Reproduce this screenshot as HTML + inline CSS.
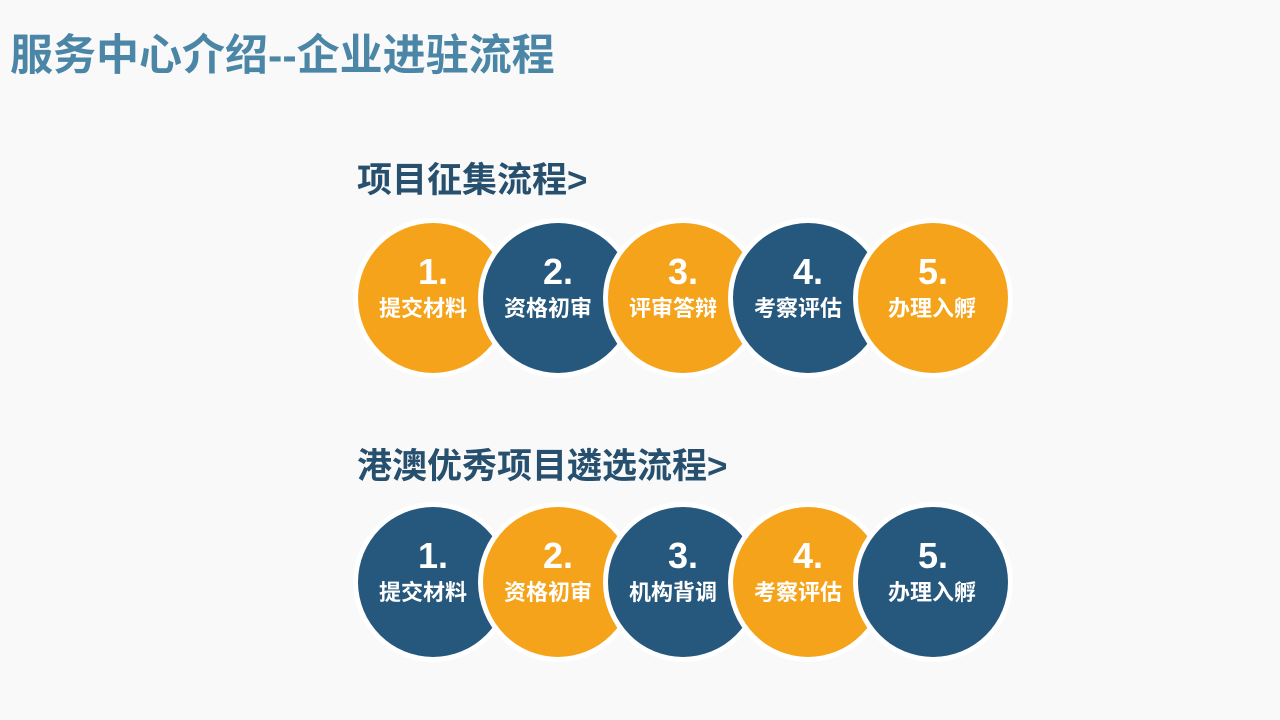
<!DOCTYPE html>
<html><head><meta charset="utf-8"><style>
body{margin:0;width:1280px;height:720px;background:#f9f9f9;position:relative;overflow:hidden;font-family:"Liberation Sans","Noto Sans CJK SC",sans-serif;}
.t{position:absolute;left:10px;top:26px;font-size:43px;font-weight:bold;color:#4b86a7;white-space:nowrap;line-height:60px}
.s{position:absolute;left:357px;font-size:35px;font-weight:bold;color:#27506f;white-space:nowrap;line-height:40px}
.c{position:absolute;width:150px;height:150px;border-radius:50%;box-shadow:0 0 0 5px #fff;color:#fff;text-align:center;font-weight:bold}
.c .n{position:absolute;top:27px;left:0;right:0;font-size:36px;line-height:44px;font-family:"Liberation Sans","Noto Sans CJK SC",sans-serif}
.c .l{position:absolute;top:71px;left:-20px;right:0;font-size:22px;line-height:30px}
.c .l.m{left:-2px}
.o{background:#f5a31a}.b{background:#26577c}
</style></head><body>
<div class="t">服务中心介绍--企业进驻流程</div>
<div class="s" style="top:161px">项目征集流程&gt;</div>
<div class="s" style="top:447px">港澳优秀项目遴选流程&gt;</div>

<div class="c o" style="left:358px;top:223px"><div class="n">1.</div><div class="l">提交材料</div></div>
<div class="c b" style="left:483px;top:223px"><div class="n">2.</div><div class="l">资格初审</div></div>
<div class="c o" style="left:608px;top:223px"><div class="n">3.</div><div class="l">评审答辩</div></div>
<div class="c b" style="left:733px;top:223px"><div class="n">4.</div><div class="l">考察评估</div></div>
<div class="c o" style="left:858px;top:223px"><div class="n">5.</div><div class="l m">办理入孵</div></div>

<div class="c b" style="left:358px;top:507px"><div class="n">1.</div><div class="l">提交材料</div></div>
<div class="c o" style="left:483px;top:507px"><div class="n">2.</div><div class="l">资格初审</div></div>
<div class="c b" style="left:608px;top:507px"><div class="n">3.</div><div class="l">机构背调</div></div>
<div class="c o" style="left:733px;top:507px"><div class="n">4.</div><div class="l">考察评估</div></div>
<div class="c b" style="left:858px;top:507px"><div class="n">5.</div><div class="l m">办理入孵</div></div>
</body></html>
